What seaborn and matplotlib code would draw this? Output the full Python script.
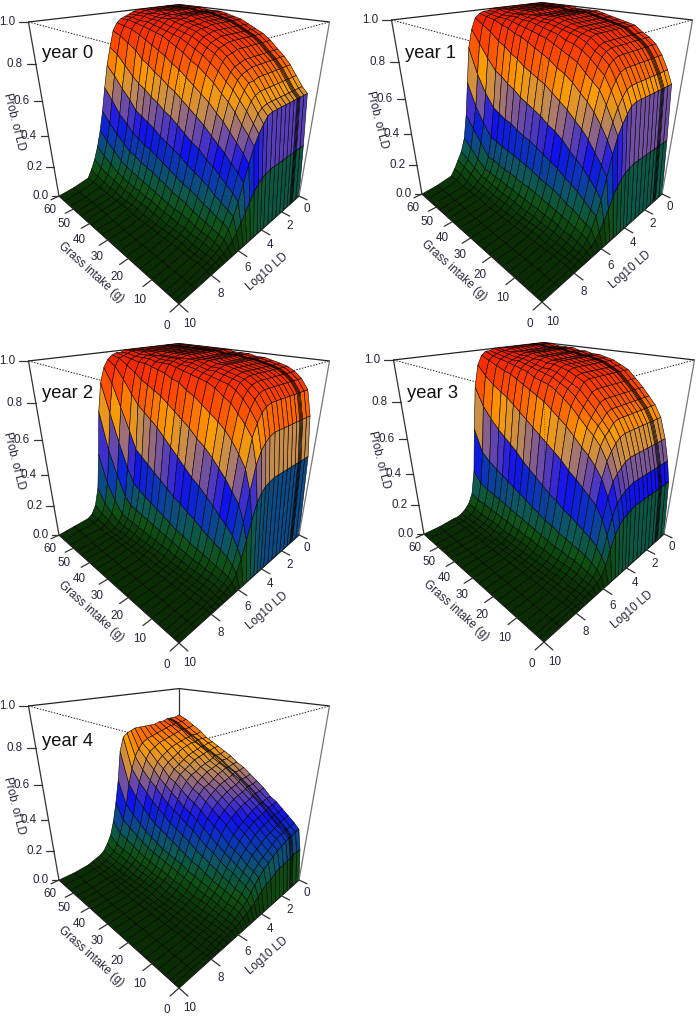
import numpy as np
import matplotlib
matplotlib.use('Agg')
import matplotlib.pyplot as plt
import seaborn as sns
from mpl_toolkits.mplot3d import proj3d

grass = [0, 1.5, 3, 5, 7.5, 10, 12.5, 15, 18, 21, 24, 27, 30, 33, 36, 39, 42, 45, 48, 52, 56, 60]
log_ld = [0, .4, .8, .9, 1, 1.1, 1.4, 1.8, 2.2, 2.6, 3, 3.4, 3.8, 4.1, 4.4, 4.7, 5, 5.3, 5.6, 5.9,
          6.2, 6.5, 6.8, 7.1, 7.4, 7.7, 8, 9, 10]
grass_ticks = [0, 10, 20, 30, 40, 50, 60]
ld_ticks = [0, 2, 4, 6, 8, 10]
prob_ticks = [0, .2, .4, .6, .8, 1]

# percent, one row per grass value, one column per log_ld value
year0 = [
    [0,0,0,0,0,0,0,0,0,0,0,0,0, 0,0,0,0,0,0,0,0,0,0,0,0,0,0,0,0],
    [33,33,33,33,33,33,33,33,33,33,33,33,32, 31,29,26,22,17,13,9,6,4,2,2,1,1,0,0,0],
    [63,63,63,63,63,63,63,63,63,63,63,63,62, 59,55,50,42,33,24,17,11,7,4,3,2,1,1,0,0],
    [66,66,66,66,66,66,66,66,66,66,66,66,65, 63,59,54,46,37,27,19,13,8,5,3,2,1,1,0,0],
    [71,71,71,71,71,71,71,71,71,71,71,71,70, 68,64,58,50,40,30,21,14,9,6,4,2,1,1,0,0],
    [76,76,76,76,76,76,76,76,76,76,76,75,75, 72,68,63,54,44,33,23,16,10,6,4,2,1,1,0,0],
    [80,80,80,80,80,80,80,80,80,80,80,79,78, 76,72,67,58,47,36,26,17,11,7,4,3,2,1,0,0],
    [83,83,83,83,83,83,83,83,83,83,83,82,81, 79,75,70,61,50,38,28,19,12,8,5,3,2,1,0,0],
    [87,87,87,87,87,87,87,87,87,87,87,86,85, 83,79,74,65,54,42,30,21,14,9,5,3,2,1,0,0],
    [90,90,90,90,90,90,90,90,90,90,90,89,88, 86,82,77,68,57,44,32,22,15,9,6,3,2,1,0,0],
    [92,92,92,92,92,92,92,92,92,92,92,91,90, 88,85,80,71,60,47,35,24,16,10,6,4,2,1,0,0],
    [94,94,94,94,94,94,94,94,94,94,94,93,92, 90,87,82,74,63,50,37,26,18,11,7,4,2,1,0,0],
    [96,96,96,96,96,96,96,96,96,96,95,95,94, 92,89,85,77,66,53,39,28,19,12,8,5,2,1,0,0],
    [97,97,97,97,97,97,97,97,97,97,96,96,95, 93,91,87,79,68,55,41,30,21,13,8,5,3,1,0,0],
    [98,98,98,98,98,98,98,98,98,98,97,97,96, 94,92,89,82,71,58,44,32,22,14,9,5,3,2,0,0],
    [99,99,99,99,99,99,99,99,99,99,98,98,97, 95,93,91,84,73,60,46,33,23,15,9,6,3,2,1,0],
    [99,99,99,99,99,99,99,99,99,99,99,98,98, 96,94,92,86,76,63,48,35,25,16,10,6,3,2,1,0],
    [99,99,99,99,99,99,99,99,99,99,99,99,98, 97,95,93,88,78,65,50,37,26,17,11,7,4,2,1,0],
    [100,100,100,100,100,100,100,100,100,100,99,99,98, 97,96,94,90,82,68,55,41,29,19,12,8,4,2,1,0],
    [100,100,100,100,100,100,100,100,100,100,100,99,99, 98,96,95,92,85,73,60,45,33,23,15,9,5,3,1,0],
    [100,100,100,100,100,100,100,100,100,100,100,100,99, 98,97,96,93,88,78,66,52,38,27,18,11,6,3,1,0],
    [100,100,100,100,100,100,100,100,100,100,100,100,99, 98,97,96,94,90,81,71,58,44,32,22,14,8,3,1,0],
]
year1 = [
    [0,0,0,0,0,0,0,0,0,0,0,0,0, 0,0,0,0,0,0,0,0,0,0,0,0,0,0,0,0],
    [35,35,35,35,35,35,35,35,35,35,35,35,34, 33,31,28,24,18,13,8,5,3,2,1,1,0,0,0,0],
    [67,67,67,67,67,67,67,67,67,67,67,67,66, 63,59,54,46,35,24,16,10,6,3,2,1,1,1,0,0],
    [74,74,74,74,74,74,74,74,74,74,74,74,73, 70,66,60,52,40,28,18,11,7,4,2,1,1,1,0,0],
    [81,81,81,81,81,81,81,81,81,81,81,81,80, 77,73,67,58,45,32,21,13,8,5,3,2,1,1,0,0],
    [86,86,86,86,86,86,86,86,86,86,86,86,85, 83,79,73,63,50,36,24,15,9,5,3,2,1,1,0,0],
    [89,89,89,89,89,89,89,89,89,89,89,89,88, 86,82,76,67,54,39,26,16,10,6,4,2,1,1,0,0],
    [91,91,91,91,91,91,91,91,91,91,91,91,90, 88,85,79,70,57,42,28,18,11,7,4,3,2,1,0,0],
    [94,94,94,94,94,94,94,94,94,94,94,94,93, 91,88,83,74,61,46,31,20,12,7,4,3,2,1,0,0],
    [95,95,95,95,95,95,95,95,95,95,95,95,94, 93,90,85,77,64,49,33,21,13,8,5,3,2,1,0,0],
    [96,96,96,96,96,96,96,96,96,96,96,96,95, 94,91,87,79,67,51,35,22,14,8,5,3,2,1,0,0],
    [97,97,97,97,97,97,97,97,97,97,97,97,96, 95,93,89,82,70,54,37,24,15,9,5,3,2,1,0,0],
    [98,98,98,98,98,98,98,98,98,98,98,98,97, 96,94,91,84,72,56,39,25,15,9,6,4,2,1,0,0],
    [99,99,99,99,99,99,99,99,99,99,99,99,98, 97,95,92,86,74,58,40,26,16,10,6,4,2,1,0,0],
    [99,99,99,99,99,99,99,99,99,99,99,99,98, 97,96,93,88,76,60,42,27,17,10,6,4,2,1,0,0],
    [99,99,99,99,99,99,99,99,99,99,99,99,99, 98,97,94,90,79,63,44,28,17,11,7,4,3,1,0,0],
    [99,99,99,99,99,99,99,99,99,99,99,99,99, 98,97,95,91,81,65,45,29,18,11,7,5,3,2,1,0],
    [100,100,100,100,100,100,100,100,100,100,100,100,99, 99,98,96,93,84,68,47,30,19,12,8,5,3,2,1,0],
    [100,100,100,100,100,100,100,100,100,100,100,100,99, 99,98,97,94,86,70,49,31,19,12,8,6,3,2,1,0],
    [100,100,100,100,100,100,100,100,100,100,100,100,100, 99,98,97,96,90,76,56,38,26,16,11,8,4,2,1,0],
    [100,100,100,100,100,100,100,100,100,100,100,100,100, 100,99,98,97,93,83,66,47,33,21,14,10,6,3,1,0],
    [100,100,100,100,100,100,100,100,100,100,100,100,100, 100,99,99,98,96,90,80,60,40,25,17,12,7,3,1,0],
]
year2 = [
    [0,0,0,0,0,0,0,0,0,0,0,0,0, 0,0,0,0,0,0,0,0,0,0,0,0,0,0,0,0],
    [50,50,50,50,50,50,50,50,50,50,50,50,49, 48,46,42,34,24,15,8,4,3,2,1,0,0,0,0,0],
    [72,72,72,72,72,72,72,72,72,72,72,72,71, 69,66,60,48,33,20,11,6,4,2,1,1,1,0,0,0],
    [85,85,85,85,85,85,85,85,85,85,85,85,84, 82,78,72,58,41,25,14,7,4,3,2,1,1,0,0,0],
    [90,90,90,90,90,90,90,90,90,90,90,90,89, 87,83,77,64,46,29,16,8,5,3,2,1,1,0,0,0],
    [93,93,93,93,93,93,93,93,93,93,93,93,92, 90,87,81,69,51,32,18,9,5,3,2,1,1,0,0,0],
    [95,95,95,95,95,95,95,95,95,95,95,95,94, 93,90,85,73,55,36,20,10,6,3,2,1,1,0,0,0],
    [96,96,96,96,96,96,96,96,96,96,96,96,95, 94,92,87,76,59,39,22,11,6,3,2,1,1,0,0,0],
    [97,97,97,97,97,97,97,97,97,97,97,97,96, 95,93,90,79,63,43,25,12,7,4,2,1,1,0,0,0],
    [98,98,98,98,98,98,98,98,98,98,98,98,97, 96,94,92,82,66,46,27,14,8,4,2,1,1,0,0,0],
    [98,98,98,98,98,98,98,98,98,98,98,98,97, 96,95,93,85,70,50,30,15,9,5,3,1,1,0,0,0],
    [99,99,99,99,99,99,99,99,99,99,99,99,98, 97,96,94,87,73,54,32,17,10,5,3,2,1,0,0,0],
    [99,99,99,99,99,99,99,99,99,99,99,99,99, 98,97,95,90,76,58,35,19,11,6,3,2,1,0,0,0],
    [99,99,99,99,99,99,99,99,99,99,99,99,99, 98,97,96,91,79,62,38,21,12,6,3,2,1,1,0,0],
    [100,100,100,100,100,100,100,100,100,100,100,100,99, 99,98,97,93,82,66,41,23,13,7,3,2,1,1,0,0],
    [100,100,100,100,100,100,100,100,100,100,100,100,99, 99,98,97,94,84,69,44,25,14,7,4,2,1,1,0,0],
    [100,100,100,100,100,100,100,100,100,100,100,100,99, 99,98,97,95,86,72,47,27,15,8,4,2,1,1,0,0],
    [100,100,100,100,100,100,100,100,100,100,100,100,99, 99,99,98,96,88,75,50,30,16,8,4,2,1,1,0,0],
    [100,100,100,100,100,100,100,100,100,100,100,100,100, 99,99,98,96,91,80,60,38,20,9,5,2,1,1,0,0],
    [100,100,100,100,100,100,100,100,100,100,100,100,100, 100,99,98,97,94,87,72,52,32,16,8,4,2,1,1,0],
    [100,100,100,100,100,100,100,100,100,100,100,100,100, 100,100,99,98,97,93,84,68,46,25,12,6,3,2,1,0],
    [100,100,100,100,100,100,100,100,100,100,100,100,100, 100,100,99,99,98,96,92,84,68,42,20,9,4,2,1,0],
]
year3 = [
    [0,0,0,0,0,0,0,0,0,0,0,0,0, 0,0,0,0,0,0,0,0,0,0,0,0,0,0,0,0],
    [34,34,34,34,34,34,34,34,34,34,34,34,33, 32,31,29,25,18,10,5,3,2,1,1,0,0,0,0,0],
    [46,46,46,46,46,46,46,46,46,46,46,46,45, 44,42,40,34,25,14,8,5,3,2,1,1,0,0,0,0],
    [58,58,58,58,58,58,58,58,58,58,58,58,57, 55,53,50,43,32,18,10,6,3,2,1,1,0,0,0,0],
    [69,69,69,69,69,69,69,69,69,69,69,69,68, 66,63,59,51,38,21,12,7,4,3,1,1,1,0,0,0],
    [75,75,75,75,75,75,75,75,75,75,75,75,74, 71,69,65,56,41,23,13,8,5,3,2,1,1,0,0,0],
    [79,79,79,79,79,79,79,79,79,79,79,79,78, 75,73,69,60,44,25,14,8,5,3,2,1,1,0,0,0],
    [83,83,83,83,83,83,83,83,83,83,83,83,82, 79,76,72,63,47,27,15,9,5,3,2,1,1,0,0,0],
    [87,87,87,87,87,87,87,87,87,87,87,87,86, 83,80,76,67,50,29,16,9,5,3,2,1,1,0,0,0],
    [91,91,91,91,91,91,91,91,91,91,91,91,90, 87,84,80,71,54,32,18,10,6,3,2,1,1,0,0,0],
    [93,93,93,93,93,93,93,93,93,93,93,93,92, 89,87,83,74,57,34,19,11,6,3,2,1,1,0,0,0],
    [95,95,95,95,95,95,95,95,95,95,95,95,94, 91,89,86,77,60,37,21,12,7,4,2,1,1,0,0,0],
    [96,96,96,96,96,96,96,96,96,96,96,96,95, 93,91,88,80,63,40,23,13,7,4,2,1,1,0,0,0],
    [97,97,97,97,97,97,97,97,97,97,97,97,96, 94,92,89,82,66,43,25,14,8,4,2,1,1,0,0,0],
    [97,97,97,97,97,97,97,97,97,97,97,97,96, 94,93,90,84,69,46,27,15,8,4,2,1,1,0,0,0],
    [98,98,98,98,98,98,98,98,98,98,98,98,97, 95,94,92,86,72,50,29,16,9,4,3,1,1,0,0,0],
    [98,98,98,98,98,98,98,98,98,98,98,98,97, 96,95,93,88,75,53,31,17,9,5,3,1,1,0,0,0],
    [99,99,99,99,99,99,99,99,99,99,99,99,98, 97,96,94,90,78,56,33,18,10,5,3,2,1,0,0,0],
    [99,99,99,99,99,99,99,99,99,99,99,99,98, 97,96,95,91,80,59,35,19,10,5,3,2,1,0,0,0],
    [99,99,99,99,99,99,99,99,99,99,99,99,99, 98,97,96,93,83,64,38,20,11,5,3,2,1,1,0,0],
    [100,100,100,100,100,100,100,100,100,100,100,100,99, 99,98,97,95,87,70,42,22,11,6,3,2,1,1,0,0],
    [100,100,100,100,100,100,100,100,100,100,100,100,100, 100,99,99,97,92,80,55,28,13,7,4,2,1,1,0,0],
]
year4 = [
    [0,0,0,0,0,0,0,0,0,0,0,0,0, 0,0,0,0,0,0,0,0,0,0,0,0,0,0,0,0],
    [20,20,20,20,19,19,19,18,18,17,15,14,12, 10,8,7,5,4,3,2,2,1,1,1,0,0,0,0,0],
    [32,32,31,31,31,31,30,29,28,26,24,22,19, 16,13,10,8,6,4,3,2,2,1,1,1,0,0,0,0],
    [35,34,34,34,34,33,33,32,30,28,26,24,21, 18,15,12,9,7,5,3,2,2,1,1,1,0,0,0,0],
    [38,37,37,37,36,36,35,34,33,31,29,27,23, 20,17,13,10,7,5,4,3,2,1,1,1,0,0,0,0],
    [41,40,40,40,39,39,38,37,36,34,32,29,26, 22,19,15,11,8,6,4,3,2,1,1,1,0,0,0,0],
    [44,43,43,43,42,42,41,40,39,37,35,32,28, 24,20,16,12,9,7,5,3,2,2,1,1,0,0,0,0],
    [46,46,45,45,45,45,44,43,41,39,37,34,30, 26,22,18,13,10,7,5,3,2,2,1,1,0,0,0,0],
    [50,49,49,49,48,48,47,46,45,43,41,38,34, 29,25,20,15,11,8,5,4,3,2,1,1,0,0,0,0],
    [53,52,52,52,52,51,50,49,48,46,44,41,37, 32,27,22,17,12,9,6,4,3,2,1,1,1,0,0,0],
    [56,55,55,55,55,54,53,52,51,49,47,44,40, 35,30,24,18,13,10,7,5,3,2,1,1,1,0,0,0],
    [59,58,58,58,57,57,56,55,54,52,50,47,43, 38,33,27,20,15,11,7,5,3,2,1,1,1,0,0,0],
    [61,61,60,60,60,60,59,58,56,54,53,50,46, 41,35,29,22,16,12,8,6,4,3,2,1,1,0,0,0],
    [64,63,63,63,62,62,61,60,59,57,55,52,48, 43,38,31,24,17,13,9,6,4,3,2,1,1,0,0,0],
    [66,65,65,65,65,64,63,62,61,59,58,55,51, 46,40,33,26,18,14,9,6,5,3,2,1,1,0,0,0],
    [68,68,67,67,67,67,66,65,64,62,60,58,54, 49,43,36,28,20,15,10,7,5,3,2,1,1,0,0,0],
    [70,70,69,69,69,69,68,67,66,64,62,60,56, 52,46,39,30,22,16,11,7,5,3,2,1,1,0,0,0],
    [72,72,72,72,71,71,71,70,69,67,65,63,60, 55,50,42,33,24,18,12,8,6,4,2,1,1,1,0,0],
    [75,74,74,74,74,73,73,72,71,70,68,66,63, 59,53,46,37,27,20,14,9,6,4,2,1,1,1,0,0],
    [78,77,77,77,77,77,76,75,74,73,72,70,68, 64,58,51,42,31,23,16,10,7,4,3,2,1,1,0,0],
    [81,80,80,80,80,79,79,78,77,76,75,74,72, 69,65,58,49,36,26,18,11,7,5,3,2,1,1,0,0],
    [83,82,82,82,82,82,81,81,80,80,80,80,80, 79,78,76,68,50,36,24,15,10,6,4,3,2,1,0,0],
]

band_colors = ['#0a2c02', '#0f5214', '#0b5a5a', '#0a3ab0', '#1010f0', '#6a4aa8',
               '#c08a55', '#ff9c00', '#ff5a00', '#ff3600', '#e81c00']

# name, values, x and y pixel of the front corner, y pixel of the name
panels = [
    ('year 0', year0, 179, 304, 53),
    ('year 1', year1, 542, 302, 53),
    ('year 2', year2, 179, 643, 393),
    ('year 3', year3, 544, 642, 393),
    ('year 4', year4, 179, 988, 742),
]

sns.set_theme(style='white')
plt.rcParams['font.family'] = ['Liberation Sans', 'DejaVu Sans']

W, H = 697, 1016
fig = plt.figure(figsize=(W / 100, H / 100), dpi=100)
cmap = sns.blend_palette(band_colors, n_colors=256, as_cmap=True)
ink = '#26263a'


def corner_px(ax, x, y, z):
    px, py, _ = proj3d.proj_transform(x, y, z, ax.get_proj())
    return ax.transData.transform((px, py))


def label(ax, x, y, z, s, ha='center'):
    px, py = corner_px(ax, x, y, z)
    fig.text(px / W, py / H, s, ha=ha, va='center', fontsize=8.4, color=ink)


for name, values, fx, fy, name_y in panels:
    ax = fig.add_axes([0, 0, 320 / W, 320 / H], projection='3d', computed_zorder=False)
    ax.set_proj_type('persp', focal_length=.2025)
    ax.view_init(elev=24.5, azim=135)
    ax.set_box_aspect((1, 1, 1))
    ax.set_xlim(0, 60)
    ax.set_ylim(0, 10)
    ax.set_zlim(0, 1)
    ax.set_axis_off()
    ax.patch.set_alpha(0)

    # size and place the box so its corners land where they are in the picture
    ax.apply_aspect()
    wide = corner_px(ax, 0, 0, 1)[0] - corner_px(ax, 60, 10, 1)[0]
    side = 320 * 301 / wide
    ax.set_position([0, 0, side / W, side / H])
    ax.apply_aspect()
    front = corner_px(ax, 0, 10, 0)
    ax.set_position([(fx - front[0]) / W, (H - fy - front[1]) / H, side / W, side / H])
    ax.apply_aspect()

    G, L = np.meshgrid(grass, log_ld, indexing='ij')
    Z = np.array(values) / 100
    cells = (Z[:-1, :-1] + Z[1:, :-1] + Z[:-1, 1:] + Z[1:, 1:]) / 4
    ax.plot([60, 60, 0], [10, 0, 0], [1, 1, 1], color='#222222', lw=.9, zorder=1, clip_on=False)
    ax.plot([60, 60], [0, 0], [0, 1], color='#333333', lw=.9, zorder=1, clip_on=False)
    ax.plot([60, 0, 0], [10, 10, 0], [1, 1, 1], color='#222222', lw=.7, ls=(0, (1.5, 1.5)), zorder=1, clip_on=False)
    surf = ax.plot_surface(G, L, Z, facecolors=cmap(cells), shade=False, rstride=1, cstride=1,
                           edgecolor='black', linewidth=.4, zorder=2)
    surf.set_clip_on(False)
    ax.plot([60, 60], [10, 10], [0, 1], color='#333333', lw=.9, zorder=3, clip_on=False)
    ax.plot([0, 0], [0, 0], [0, 1], color='#777777', lw=.9, zorder=3, clip_on=False)
    ax.plot([60, 0, 0], [10, 10, 0], [0, 0, 0], color='#222222', lw=.8, zorder=3, clip_on=False)
    ax.plot([0, 0], [10, 10], [0, 1], color='#222222', lw=.6, ls=(0, (1, 2)), alpha=.7, zorder=3, clip_on=False)

    for p in prob_ticks:
        ax.plot([60, 61.8], [10, 10.3], [p, p], color='#333333', lw=.9, zorder=3, clip_on=False)
        label(ax, 62.7, 10.45, p, f'{p:.1f}', ha='right')
    for g in grass_ticks:
        ax.plot([g, g], [10, 10.5], [0, 0], color='#333333', lw=.9, zorder=3, clip_on=False)
        label(ax, g, 10.7, -.065, str(g))
    for d in ld_ticks:
        ax.plot([0, -3], [d, d], [0, 0], color='#333333', lw=.9, zorder=3, clip_on=False)
        label(ax, -3.5, d, -.065, str(d))

    fig.text((fx - 88) / W, 1 - (fy - 32) / H, 'Grass intake (g)', rotation=-42, rotation_mode='anchor',
             ha='center', va='center', fontsize=8.4, color=ink)
    fig.text((fx + 88) / W, 1 - (fy - 32) / H, 'Log10 LD', rotation=41, rotation_mode='anchor',
             ha='center', va='center', fontsize=8.4, color=ink)
    fig.text((fx - 165) / W, 1 - (fy - 182) / H, 'Prob. of LD', rotation=-76, rotation_mode='anchor',
             ha='center', va='center', fontsize=8.4, color=ink)
    fig.text((fx - 137) / W, 1 - name_y / H, name, ha='left', va='center', fontsize=13.2, color='#111111')

fig.savefig('out.png', dpi=100)
